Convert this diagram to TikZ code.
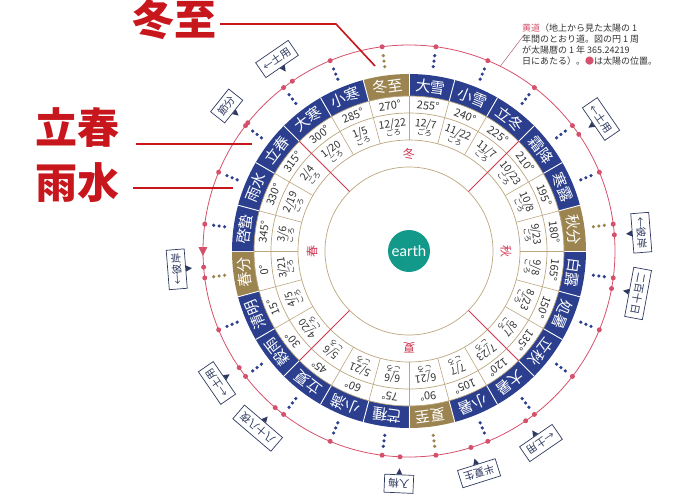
\documentclass[tikz,border=0pt]{standalone}
\usepackage{fontspec}
\newfontfamily\jpfont{Noto Sans CJK JP}
\newfontfamily\latinfont{Lato}
\usetikzlibrary{calc}
\definecolor{sekkiblue}{HTML}{2B3F8E}
\definecolor{sekkigold}{HTML}{9C8450}
\definecolor{ringtan}{HTML}{BBA67E}
\definecolor{eclred}{HTML}{D5506A}
\definecolor{seasonred}{HTML}{D23A55}
\definecolor{callred}{HTML}{C8161D}
\definecolor{boxnavy}{HTML}{2E3A60}
\definecolor{earthteal}{HTML}{13998A}

\begin{document}
\begin{tikzpicture}[x=1pt,y=1pt,
  cellname/.style={text=white,font=\jpfont\fontsize{15}{15}\selectfont,inner sep=0pt},
  degtext/.style={text=black!80,font=\jpfont\fontsize{11}{11}\selectfont,inner sep=0pt},
  datetext/.style={text=black!80,font=\jpfont\fontsize{10.5}{9}\selectfont,align=center,inner sep=0pt},
  season/.style={text=seasonred,font=\jpfont\fontsize{12}{12}\selectfont,inner sep=0pt},
  zassetsu/.style={draw=boxnavy,fill=white,line width=0.7pt,text=boxnavy,font=\jpfont\fontsize{10.5}{10.5}\selectfont,inner sep=4pt,minimum height=18pt},
  sundot/.style={circle,fill=eclred,inner sep=0pt,minimum size=5pt},
  bigcall/.style={text=callred,font=\jpfont\bfseries\fontsize{42}{42}\selectfont,inner sep=0pt},
  callline/.style={callred,line width=1.6pt}]
\useasboundingbox (-409,-245) rectangle (271,251);

% ecliptic
\draw[eclred,line width=0.8pt] (0,0) circle (206);

% the 24 sekki
\foreach \nm/\mo/\dy [count=\i from 0] in {春分/3/21,清明/4/5,穀雨/4/20,立夏/5/6,小満/5/21,芒種/6/6,夏至/6/21,小暑/7/7,大暑/7/23,立秋/8/7,処暑/8/23,白露/9/8,秋分/9/23,寒露/10/8,霜降/10/23,立冬/11/7,小雪/11/22,大雪/12/7,冬至/12/22,小寒/1/5,大寒/1/20,立春/2/4,雨水/2/19,啓蟄/3/6}{
  \pgfmathsetmacro\angA{180+15*\i}
  \pgfmathsetmacro\angB{195+15*\i}
  \pgfmathsetmacro\angM{187.5+15*\i}
  \pgfmathtruncatemacro\degv{15*\i}
  \pgfmathtruncatemacro\isgold{mod(\i,6)==0}
  \ifnum\isgold=1 \def\cellcol{sekkigold}\else\def\cellcol{sekkiblue}\fi
  \fill[fill=\cellcol] (\angA:155) arc[start angle=\angA,end angle=\angB,radius=155] -- (\angB:177) arc[start angle=\angB,end angle=\angA,radius=177] -- cycle;
  \draw[white,line width=0.9pt] (\angA:155) -- (\angA:177);
  \draw[ringtan,line width=0.6pt] (\angA:111) -- (\angA:155);
  \node[cellname,rotate=\angM-90] (cell\i) at (\angM:166) {\nm};
  \node[degtext,rotate=\angM-90] (deg\i) at (\angM:146.5) {\degv°};
  \node[datetext,rotate=\angM-90] (date\i) at (\angM:124.5) {\mo/\dy\\[-1pt]{\fontsize{7.5}{7.5}\selectfont ごろ}};
  \foreach \rr in {186,191.5,197} \fill[fill=\cellcol] (\angM:\rr) circle (1.8);
  \node[sundot] (sun\i) at (\angM:206) {};
}

% rings
\draw[ringtan,line width=0.7pt] (0,0) circle (84) (0,0) circle (111) (0,0) circle (138) (0,0) circle (155);
\foreach \s in {45,135,225,315}
  \draw[seasonred,line width=0.8pt] (\s:84) -- (\s:155);
\node[season,rotate=90] (spring) at (180:97) {春};
\node[season,rotate=180] (summer) at (270:97) {夏};
\node[season,rotate=-90] (autumn) at (0:97) {秋};
\node[season] (winter) at (90:97) {冬};

% zassetsu
\foreach \za/\lbl [count=\j] in {141.5/節分,124.5/←土用,34.5/←土用,4.5/←彼岸,349.5/二百十日,304.5/←土用,287.5/半夏生,267.5/入梅,229.5/八十八夜,214.5/←土用,184.5/←彼岸}{
  \node[zassetsu,rotate=\za-90] (zs\j) at (\za:233) {\lbl};
  \fill[boxnavy] ($(zs\j.south)!3pt!(zs\j.south east)$) -- ($(zs\j.south)!6pt!(0,0)$) -- ($(zs\j.south)!3pt!(zs\j.south west)$) -- cycle;
  \node[sundot] (ev\j) at (\za:206) {};
}

% direction of the sun
\coordinate (dirpt) at (180:206);
\fill[eclred] ($(dirpt)+(-4.5,4)$) -- ($(dirpt)+(4.5,4)$) -- ($(dirpt)+(0,-5)$) -- cycle;

% note
\node[anchor=north west,align=left,inner sep=0pt,text=black!80,font=\jpfont\fontsize{9}{11}\selectfont] (anno) at (113,227)
  {\textcolor{eclred}{黄道}（地上から見た太陽の 1\\年間のとおり道。図の円 1 周\\が太陽暦の 1 年 365.24219\\日にあたる）。\textcolor{eclred}{●}は太陽の位置。};
\coordinate (eclipTag) at (63.7:206);
\draw[eclred!60!gray,line width=0.5pt] ($(anno.north west)+(2,-11)$) -- (eclipTag);

% big labels
\node[bigcall] (dongzhiLbl) at (-234,231) {冬至};
\node[bigcall] (lichunLbl) at (-331,123) {立春};
\node[bigcall] (yushuiLbl) at (-331,68) {雨水};
\coordinate (dongzhiBend) at (-73,227);
\coordinate (dongzhiEnd) at (-34,185);
\coordinate (lichunEnd) at (-157,107);
\coordinate (yushuiEnd) at (-176,63);
\draw[callline] ($(dongzhiLbl.east |- dongzhiBend)+(3,0)$) -- (dongzhiBend) -- (dongzhiEnd);
\draw[callline] ($(lichunLbl.east |- lichunEnd)+(16,0)$) -- (lichunEnd);
\draw[callline] ($(yushuiLbl.east |- yushuiEnd)+(13,0)$) -- (yushuiEnd);

% earth
\node[circle,fill=earthteal,minimum size=42pt,inner sep=0pt,text=white,font=\latinfont\fontsize{15}{15}\selectfont] (earth) at (0,0) {earth};
\end{tikzpicture}
\end{document}
